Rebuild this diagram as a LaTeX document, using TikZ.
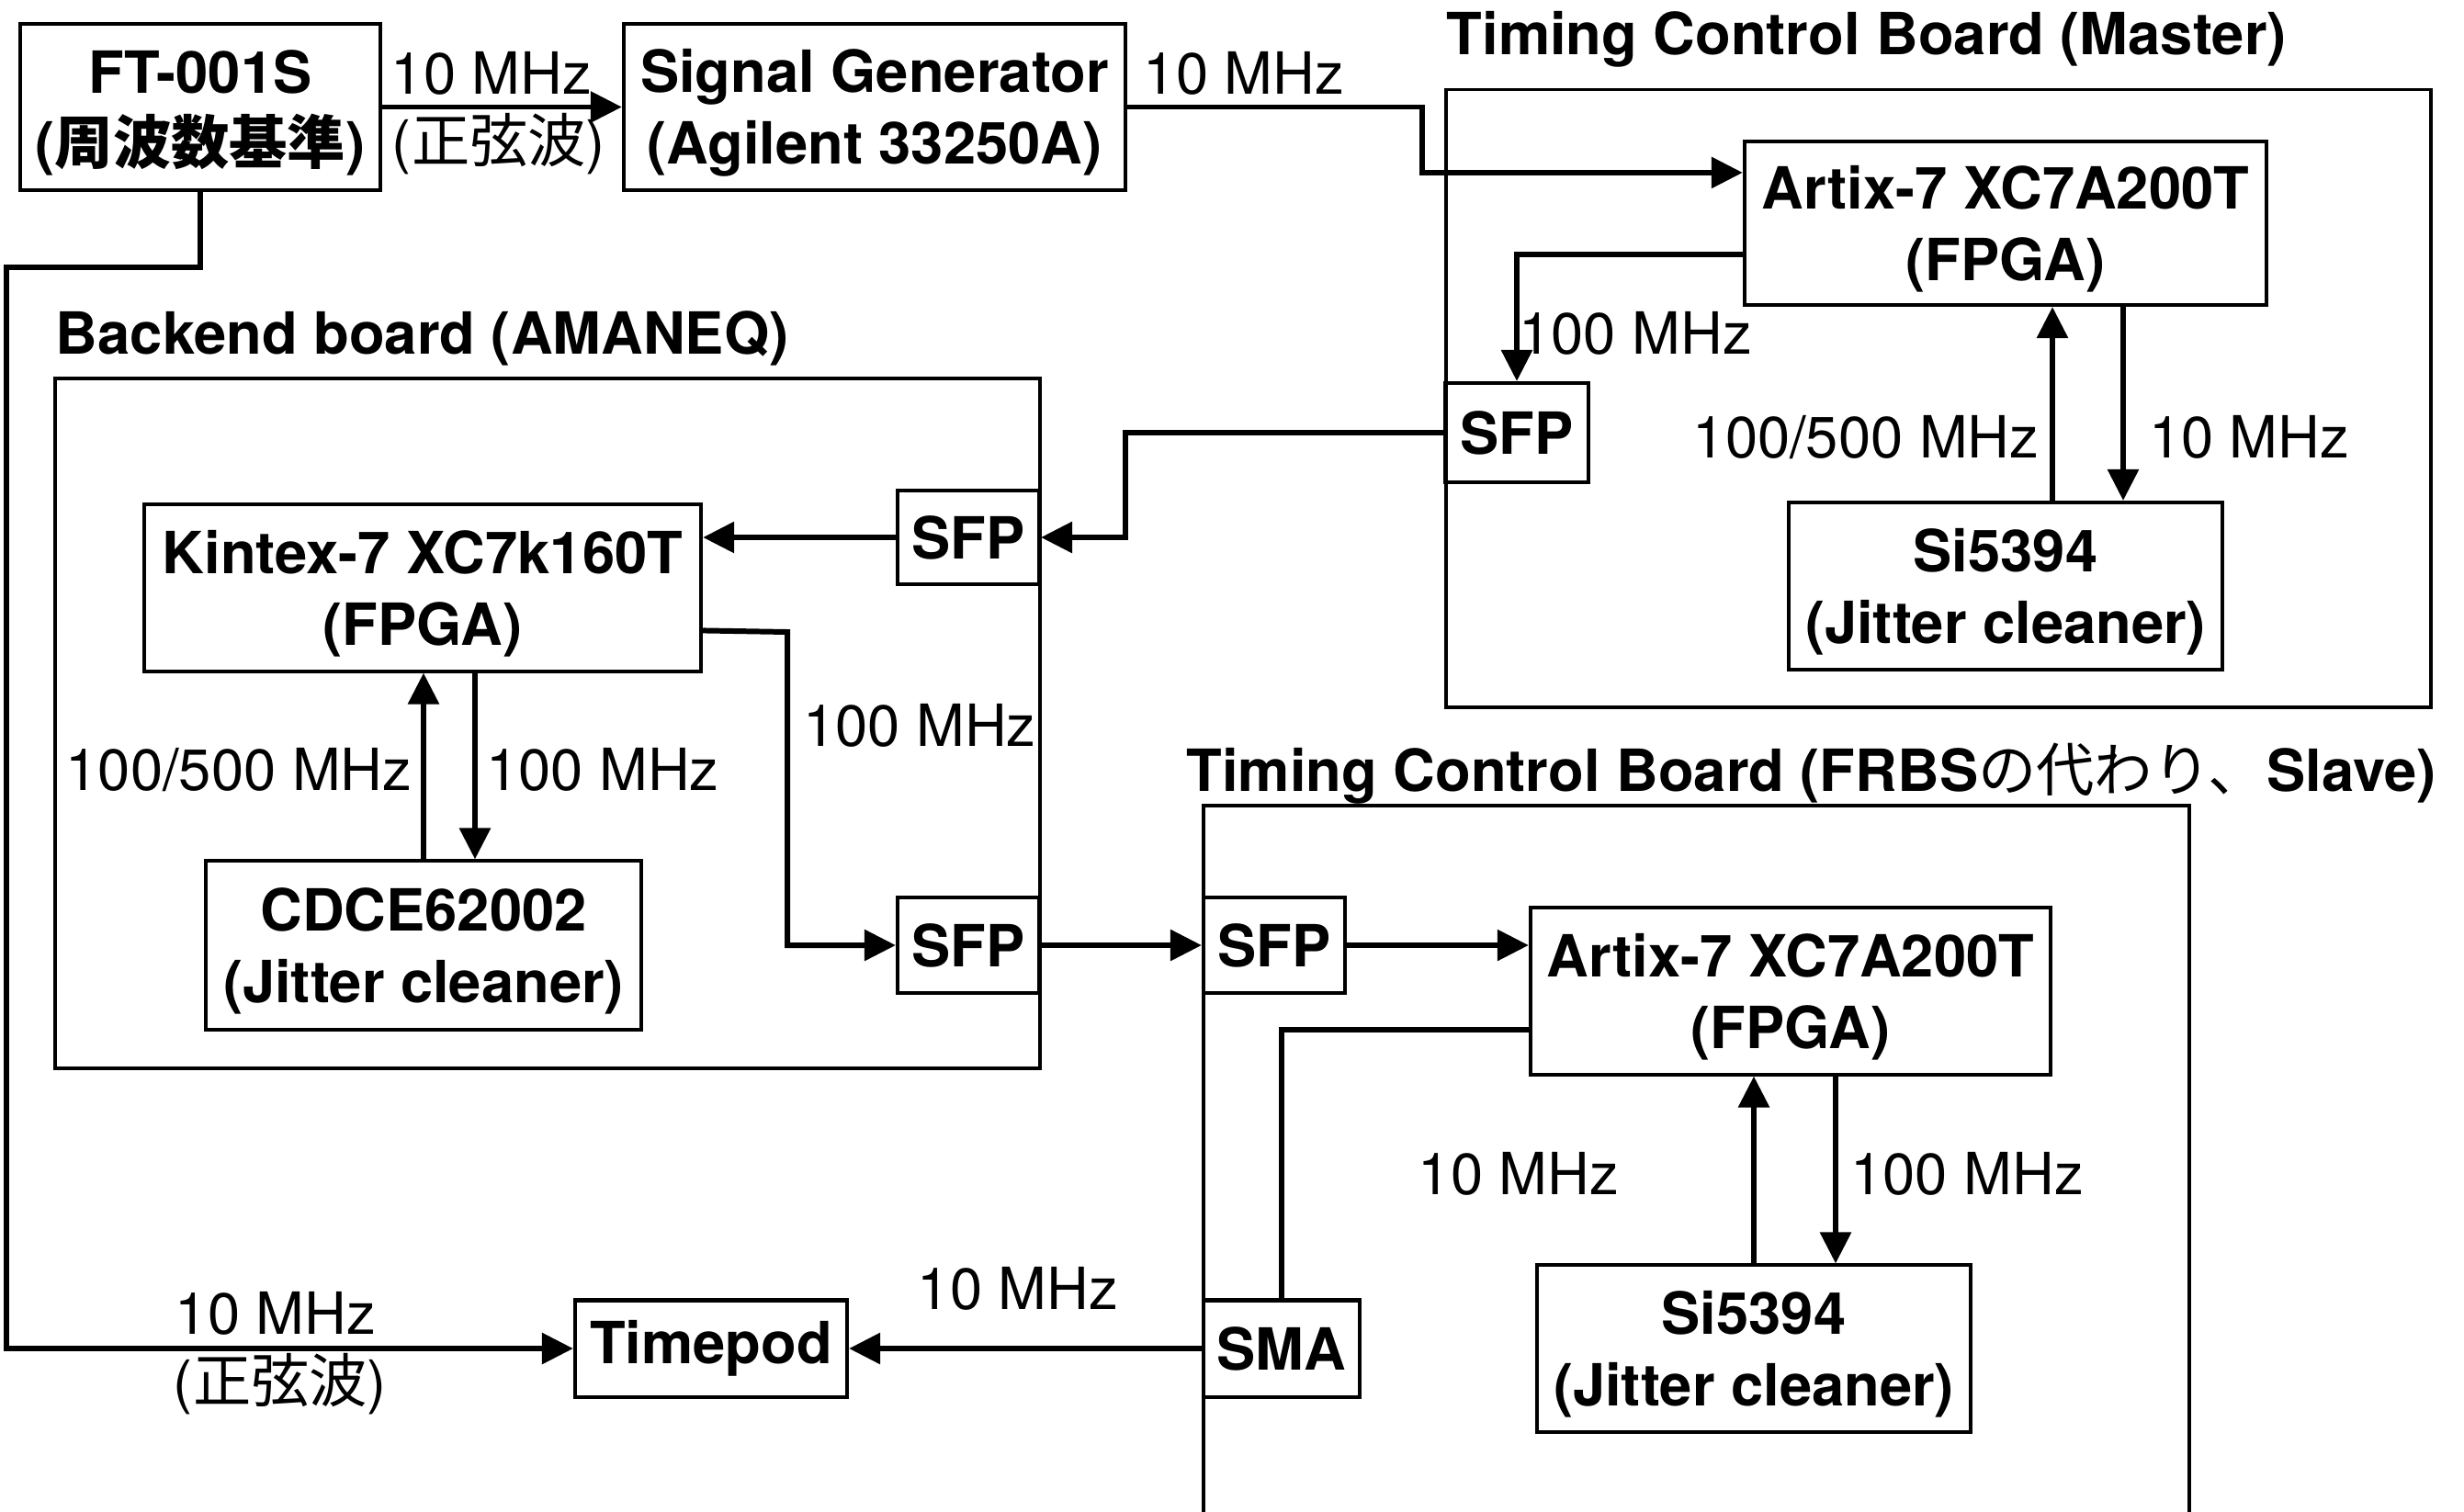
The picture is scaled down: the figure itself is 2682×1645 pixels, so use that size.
\documentclass[tikz,border=0pt]{standalone}
\usepackage{fontspec}
\setmainfont{TeX Gyre Heros}
\newfontfamily\jpfont{Noto Sans CJK JP}
\usepackage{tikz}
\usetikzlibrary{calc,arrows.meta,positioning}
\newcommand{\figfont}{\fontsize{18}{22}\selectfont}
\newcommand{\topstrut}{\rule{0pt}{17pt}}

\begin{document}
\begin{tikzpicture}[x=0.01cm,y=-0.01cm,
    blk/.style={draw, fill=white, line width=1.15pt, font=\figfont\bfseries, align=center, inner sep=0pt},
    board/.style={line width=1pt},
    sig/.style={line width=1.7pt, -{Triangle[length=0.34cm,width=0.33cm]}},
    wire/.style={line width=1.7pt},
    lbl/.style={font=\figfont, inner sep=0pt},
    ttl/.style={font=\figfont\bfseries, inner sep=0pt, anchor=west}]
    \useasboundingbox (0,0) rectangle (2682,1645);

    % boards
    \draw[board] (1574,97.5) rectangle (2646,770);
    \draw[board] (60,412) rectangle (1132,1163);
    \draw[board] (1310,1650) |- (2383,877) -- (2383,1650);
    \node[ttl] (mTitle) at (1574,43) {Timing Control Board (Master)};
    \node[ttl] (bTitle) at (60,368) {Backend board (AMANEQ)};
    \node[ttl] (sTitle) at (1291,842) {Timing Control Board (FRBS{\jpfont\mdseries の代わり、}Slave)};

    % blocks
    \node[blk, minimum width=3.92cm, minimum height=1.81cm] (ft) at (218,116.5) {\topstrut FT-001S\\({\jpfont 周波数基準})};
    \node[blk, minimum width=5.46cm, minimum height=1.81cm] (siggen) at (952,116.5) {\topstrut Signal Generator\\(Agilent 33250A)};
    \node[blk, minimum width=5.68cm, minimum height=1.78cm] (mArtix) at (2183,243) {\topstrut Artix-7 XC7A200T\\(FPGA)};
    \node[blk, minimum width=1.55cm, minimum height=1.08cm] (mSFP) at (1651,471) {SFP};
    \node[blk, minimum width=4.72cm, minimum height=1.82cm] (mSi) at (2183,638) {\topstrut Si5394\\(Jitter cleaner)};
    \node[blk, minimum width=1.54cm, minimum height=1.02cm] (bSFPin) at (1054,585) {SFP};
    \node[blk, minimum width=6.06cm, minimum height=1.81cm] (kintex) at (460,640) {\topstrut Kintex-7 XC7k160T\\(FPGA)};
    \node[blk, minimum width=1.54cm, minimum height=1.04cm] (bSFPout) at (1054,1029) {SFP};
    \node[blk, minimum width=4.74cm, minimum height=1.83cm] (cdce) at (461,1029) {\topstrut CDCE62002\\(Jitter cleaner)};
    \node[blk, minimum width=1.54cm, minimum height=1.04cm] (sSFP) at (1387,1029) {SFP};
    \node[blk, minimum width=5.66cm, minimum height=1.81cm] (sArtix) at (1949,1079) {\topstrut Artix-7 XC7A200T\\(FPGA)};
    \node[blk, minimum width=4.72cm, minimum height=1.81cm] (sSi) at (1909,1468) {\topstrut Si5394\\(Jitter cleaner)};
    \node[blk, minimum width=1.70cm, minimum height=1.05cm] (sma) at (1395,1468) {SMA};
    \node[blk, minimum width=2.96cm, minimum height=1.05cm] (timepod) at (774,1468) {Timepod};

    % reference clock
    \draw[sig] (ft.east) -- (siggen.west);
    \coordinate (k1) at (1548,116.5);
    \coordinate (mIn) at ($(mArtix.north west)+(0,36)$);
    \draw[sig] (siggen.east) -- (k1) |- (mIn);
    \coordinate (k4) at (7,291);
    \draw[sig] (ft.south) |- (k4) |- (timepod.west);

    % master board
    \coordinate (mOut) at ($(mArtix.north west)+(0,125)$);
    \draw[sig] (mOut) -| (mSFP.north);
    \draw[sig] ($(mSi.north)+(51,0)$) -- ($(mArtix.south)+(51,0)$);
    \draw[sig] ($(mArtix.south)+(128,0)$) -- ($(mSi.north)+(128,0)$);
    \coordinate (k2) at (1225,471);
    \draw[sig] (mSFP.west) -- (k2) |- (bSFPin.east);

    % backend board
    \draw[sig] (bSFPin.west) -- (bSFPin.west -| kintex.east);
    \coordinate (kOut) at ($(kintex.north east)+(0,139)$);
    \coordinate (k3) at (857,688);
    \draw[sig] (kOut) -- (k3) |- (bSFPout.west);
    \draw[sig] (cdce.north) -- (cdce.north |- kintex.south);
    \draw[sig] ($(kintex.south)+(57,0)$) -- ($(cdce.north)+(56,0)$);
    \draw[sig] (bSFPout.east) -- (sSFP.west);

    % slave board
    \draw[sig] (sSFP.east) -- (sSFP.east -| sArtix.west);
    \coordinate (sOut) at ($(sArtix.north west)+(0,135)$);
    \draw[wire] (sOut) -| (sma.north);
    \draw[sig] (sSi.north) -- (sSi.north |- sArtix.south);
    \draw[sig] ($(sArtix.south)+(49,0)$) -- ($(sSi.north)+(89,0)$);
    \draw[sig] (sma.west) -- (timepod.east);

    % labels
    \node[lbl] (l1) at (535,80) {10 MHz};
    \node[lbl] (l2) at (543,157) {({\jpfont 正弦波})};
    \node[lbl] (l3) at (1354,80) {10 MHz};
    \node[lbl] (l4) at (1780,363) {100 MHz};
    \node[lbl] (l5) at (2031,476) {100/500 MHz};
    \node[lbl] (l6) at (2448,476) {10 MHz};
    \node[lbl] (l7) at (1001,790) {100 MHz};
    \node[lbl] (l8) at (260,838) {100/500 MHz};
    \node[lbl] (l9) at (656,838) {100 MHz};
    \node[lbl] (l10) at (1653,1278) {10 MHz};
    \node[lbl] (l11) at (2141,1278) {100 MHz};
    \node[lbl] (l12) at (1108,1403) {10 MHz};
    \node[lbl] (l13) at (300,1430) {10 MHz};
    \node[lbl] (l14) at (305,1507) {({\jpfont 正弦波})};
\end{tikzpicture}
\end{document}
